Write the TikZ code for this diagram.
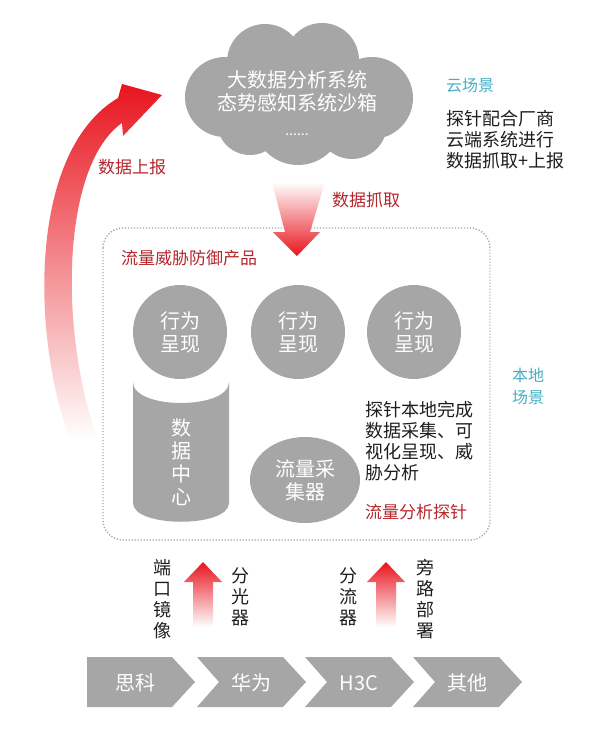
\documentclass[tikz,border=0pt]{standalone}
\usepackage{fontspec}
\setmainfont{Noto Sans CJK SC}
\usetikzlibrary{shapes.geometric}

\definecolor{bubblegrey}{HTML}{A6A6A6}
\definecolor{arrowred}{HTML}{E8141E}
\definecolor{labelred}{HTML}{B3262C}
\definecolor{scenecyan}{HTML}{45AFC2}
\definecolor{noteblack}{HTML}{1E1E1E}

\tikzset{
  bubble/.style={circle, fill=bubblegrey, minimum size=94pt, inner sep=0pt,
    text=white, align=center, font=\fontsize{20}{23}\selectfont},
  redlabel/.style={text=labelred, font=\fontsize{17}{20}\selectfont, inner sep=0pt},
  scenelabel/.style={text=scenecyan, font=\fontsize{16}{22}\selectfont, align=left, inner sep=0pt},
  note/.style={text=noteblack, font=\fontsize{18}{21}\selectfont, align=left, inner sep=0pt},
  vtext/.style={text=noteblack, font=\fontsize{18}{21}\selectfont, align=center, inner sep=0pt},
  whitetext/.style={text=white, font=\fontsize{20}{23}\selectfont, align=center, inner sep=0pt}
}

\begin{document}
\begin{tikzpicture}[x=1pt,y=-1pt]
    \useasboundingbox (0,0) rectangle (597,734);
    % cloud
    \fill[bubblegrey] (265,62) circle (38) (322,60) circle (37) (225,97) circle (40)
        (372,98) circle (41) (298,120) circle (45) (250,122) circle (33) (352,124) circle (35);
    \fill[bubblegrey] (298,95) ellipse (100 and 45);
    \node[whitetext] (cloud) at (297,103) {大数据分析系统\\态势感知系统沙箱\\[2pt]{\fontsize{14}{14}\selectfont ......}};
    % upload arrow
    \shade[top color=arrowred, middle color=arrowred!60, bottom color=white]
        (70,440) .. controls (30,330) and (30,150) .. (118,98) -- (122,84) -- (162,95)
        -- (123,136) -- (122,123) .. controls (62,165) and (58,330) .. (98,440) -- cycle;
    \node[redlabel] (upload) at (132,167) {数据上报};
    \node[scenelabel, anchor=west] (cloudscene) at (446,86) {云场景};
    \node[note, anchor=west] (cloudnote) at (446,140) {探针配合厂商\\云端系统进行\\数据抓取+上报};
    % local box
    \draw[gray!70, line width=1.4pt, dash pattern=on 1.2pt off 1.8pt, rounded corners=20pt]
        (103,228) rectangle (490,540);
    % fetch arrow
    \shade[top color=white, bottom color=arrowred] (272,182) -- (325,182) -- (310,232)
        -- (320,232) -- (297,256) -- (273,232) -- (285,232) -- cycle;
    \node[redlabel] (fetch) at (366,200) {数据抓取};
    \node[redlabel, anchor=west] (product) at (121,258) {流量威胁防御产品};
    \foreach \x/\n in {180/one,298/two,414/three}
        \node[bubble] (show\n) at (\x,332) {行为\\呈现};
    % data centre
    \fill[bubblegrey] (133,382) -- (133,503) .. controls (133,528) and (229,528) .. (229,503)
        -- (229,382) .. controls (229,410) and (133,410) .. cycle;
    \node[whitetext] (store) at (181,462) {数\\据\\中\\心};
    \node[ellipse, fill=bubblegrey, minimum width=110pt, minimum height=86pt, inner sep=0pt,
        whitetext] (collector) at (305,480) {流量采\\集器};
    \node[note, anchor=west, text width=130pt] (localnote) at (365,441) {探针本地完成\\数据采集、可\\视化呈现、威\\胁分析};
    \node[redlabel, anchor=west] (probe) at (365,512) {流量分析探针};
    \node[scenelabel] (localscene) at (528,386) {本地\\场景};
    % feed arrows
    \foreach \x in {203,386}
        \shade[top color=arrowred, bottom color=white] (\x-10,627) -- (\x-10,582) -- (\x-19,582)
            -- (\x,562) -- (\x+19,582) -- (\x+10,582) -- (\x+10,627) -- cycle;
    \node[vtext] (mirror) at (162,599) {端\\口\\镜\\像};
    \node[vtext] (splitter) at (240,597) {分\\光\\器};
    \node[vtext] (tap) at (348,597) {分\\流\\器};
    \node[vtext] (bypass) at (425,599) {旁\\路\\部\\署};
    % vendors
    \fill[bubblegrey] (87,657) -- (172,657) -- (195,682) -- (172,707) -- (87,707) -- cycle;
    \foreach \x in {197,305,413}
        \fill[bubblegrey] (\x,657) -- (\x+86,657) -- (\x+109,682) -- (\x+86,707) -- (\x,707)
            -- (\x+22,682) -- cycle;
    \node[whitetext] (cisco) at (135,683) {思科};
    \node[whitetext] (huawei) at (251,683) {华为};
    \node[whitetext] (hthreec) at (359,683) {H3C};
    \node[whitetext] (other) at (467,683) {其他};
\end{tikzpicture}
\end{document}
